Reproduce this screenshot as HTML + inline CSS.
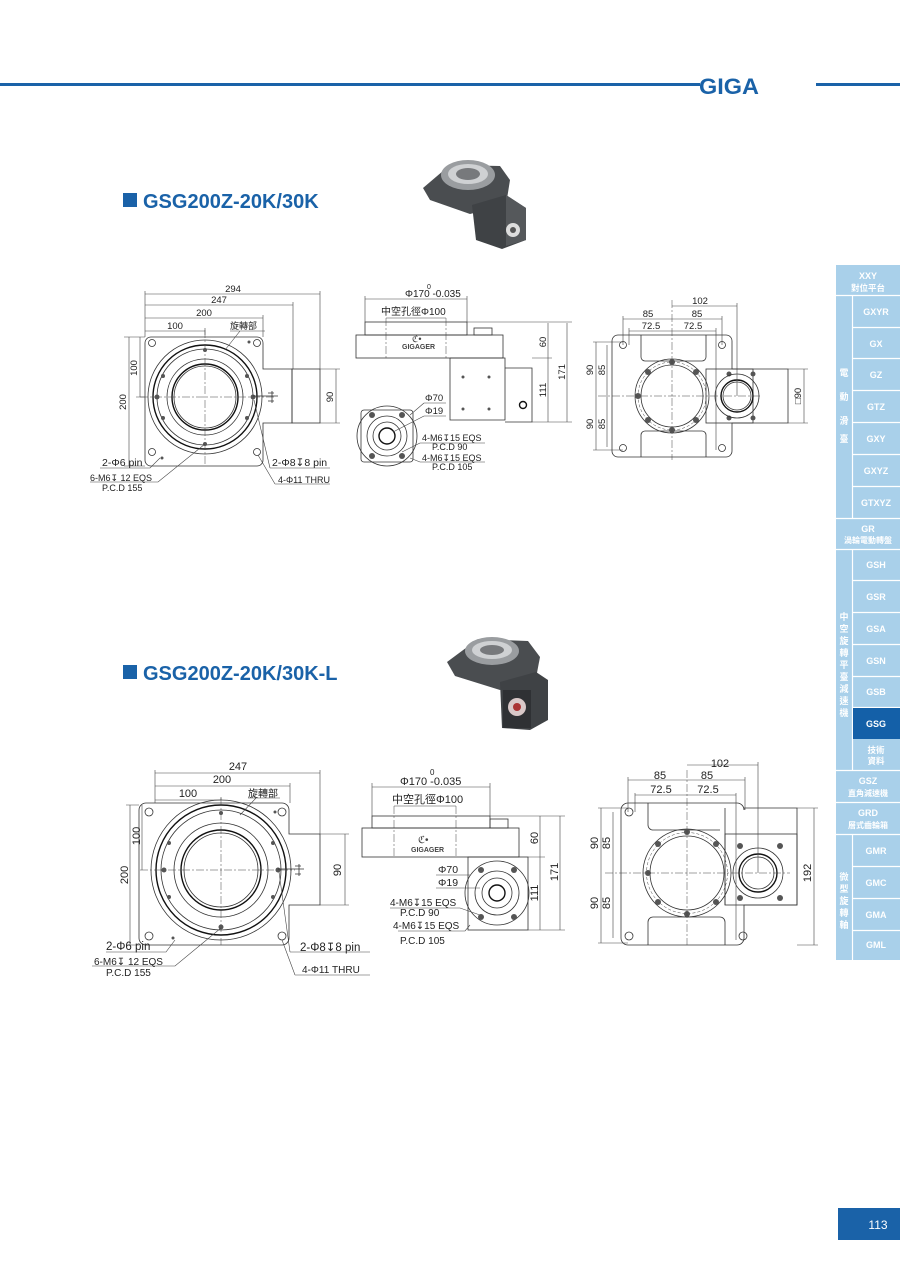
<!DOCTYPE html>
<html><head><meta charset="utf-8"><style>
body{margin:0;background:#fff}
svg{display:block}
text{font-family:"Liberation Sans","Noto Sans CJK TC",sans-serif;fill:#222}
.l{stroke:#333;stroke-width:.8;fill:none}
.t{stroke:#111;stroke-width:1.4;fill:none}
.c{stroke:#444;stroke-width:.5;stroke-dasharray:8 2 2 2;fill:none}
.d{stroke:#444;stroke-width:.6;fill:none}
.f{fill:#555}
.s text{font-size:9.5px}
.sb text{fill:#fff;font-size:9px;text-anchor:middle;font-weight:bold}
</style></head><body>
<svg width="900" height="1272" viewBox="0 0 900 1272">
<!-- header -->
<rect x="0" y="83" width="700" height="3" fill="#1a62a8"/>
<rect x="816" y="83" width="84" height="3" fill="#1a62a8"/>
<text x="699" y="94" style="font-size:22px;font-weight:bold;fill:#1a62a8" textLength="60" lengthAdjust="spacingAndGlyphs">GIGA</text>

<!-- titles -->
<rect x="123" y="193" width="14" height="14" fill="#1a62a8"/>
<text x="143" y="208" style="font-size:20px;font-weight:bold;fill:#1a62a8">GSG200Z-20K/30K</text>
<rect x="123" y="665" width="14" height="14" fill="#1a62a8"/>
<text x="143" y="680" style="font-size:20px;font-weight:bold;fill:#1a62a8">GSG200Z-20K/30K-L</text>

<!-- product photos -->
<g>
<polygon points="423,188 450,165 500,166 510,180 506,205 470,214 430,200" fill="#4a4d50"/>
<polygon points="472,205 506,195 526,208 526,240 502,249 476,240" fill="#3f4245"/>
<polygon points="506,195 526,208 526,240 506,246" fill="#55585b"/>
<ellipse cx="468" cy="175" rx="27" ry="15" fill="#9a9da0"/>
<ellipse cx="468" cy="174" rx="20" ry="10" fill="#cfd1d3"/>
<ellipse cx="468" cy="174" rx="12" ry="6" fill="#77797c"/>
<circle cx="513" cy="230" r="7" fill="#ddd"/><circle cx="513" cy="230" r="3" fill="#555"/>
</g>
<g>
<polygon points="447,662 478,639 528,641 540,657 536,678 500,690 455,676" fill="#4a4d50"/>
<polygon points="500,682 536,672 548,680 548,720 530,730 502,728" fill="#3f4245"/>
<ellipse cx="492" cy="651" rx="27" ry="14" fill="#9a9da0"/>
<ellipse cx="492" cy="650" rx="20" ry="9" fill="#cfd1d3"/>
<ellipse cx="492" cy="650" rx="12" ry="5" fill="#77797c"/>
<rect x="503" y="690" width="28" height="38" fill="#2f3134"/>
<circle cx="517" cy="707" r="9" fill="#d9c8c8"/><circle cx="517" cy="707" r="4" fill="#a33"/>
</g>

<!-- ===== TOP LEFT VIEW ===== -->
<g class="s">
<path class="l" d="M151,337 H257 a6,6 0 0 1 6,6 V369 H292 V423 H263 V460 a6,6 0 0 1 -6,6 H151 a6,6 0 0 1 -6,-6 V343 a6,6 0 0 1 6,-6Z"/>
<rect class="l" x="292" y="369" width="28" height="54"/>
<circle class="l" cx="205" cy="397" r="57"/>
<circle class="t" cx="205" cy="397" r="52"/>
<circle class="l" cx="205" cy="397" r="48"/>
<circle class="l" cx="205" cy="397" r="38"/>
<circle class="t" cx="205" cy="397" r="33"/>
<circle class="l" cx="205" cy="397" r="31"/>
<line class="c" x1="140" y1="397" x2="275" y2="397"/><line class="c" x1="205" y1="330" x2="205" y2="465"/>
<g class="f"><circle cx="205" cy="350" r="2"/><circle cx="205" cy="444" r="2"/><circle cx="163" cy="376" r="2"/><circle cx="247" cy="376" r="2"/><circle cx="163" cy="418" r="2"/><circle cx="247" cy="418" r="2"/><circle cx="157" cy="397" r="2.5"/><circle cx="253" cy="397" r="2.5"/><circle cx="162" cy="458" r="1.5"/><circle cx="249" cy="342" r="1.5"/></g>
<g class="l"><circle cx="152" cy="343" r="3.5"/><circle cx="257" cy="343" r="3.5"/><circle cx="152" cy="452" r="3.5"/><circle cx="257" cy="452" r="3.5"/></g>
<path class="l" d="M253,396 H278 M272,391 v12 M268,393 h6 M268,401 h6"/>
<g class="d"><path d="M145,337 V291 M320,369 V291 M293,369 V302 M263,337 V315 M205,335 V328 M145,294 H320 M145,305 H293 M145,318 H263 M145,331 H205 M145,337 H124 M145,466 H124 M129,337 V466 M140,337 V397 M145,397 H136 M320,369 H340 M320,423 H340 M336,369 V423"/></g>
<text x="233" y="292" text-anchor="middle">294</text><text x="219" y="303" text-anchor="middle">247</text><text x="204" y="316" text-anchor="middle">200</text><text x="175" y="329" text-anchor="middle">100</text>
<text x="230" y="329" style="font-size:9px">旋轉部</text>
<text transform="translate(126,402) rotate(-90)" text-anchor="middle">200</text>
<text transform="translate(137,368) rotate(-90)" text-anchor="middle">100</text>
<text transform="translate(333,397) rotate(-90)" text-anchor="middle">90</text>
<path class="d" d="M230,331 H265 M240,331 L225,350"/>
<path class="d" d="M100,468 H150 L160,458 M90,482 H158 L205,444 M270,468 H330 M270,468 L254,400 M275,484 H330 M275,484 L258,455"/>
<text x="102" y="466" style="font-size:10.5px">2-Φ6 pin</text>
<text x="90" y="481" style="font-size:9px">6-M6↧ 12 EQS</text>
<text x="102" y="491" style="font-size:9px">P.C.D 155</text>
<text x="272" y="466" style="font-size:10.5px">2-Φ8↧8 pin</text>
<text x="278" y="483" style="font-size:9px">4-Φ11 THRU</text>
</g>

<!-- ===== TOP MIDDLE SIDE VIEW ===== -->
<g class="s">
<rect class="l" x="365" y="322" width="102" height="13"/>
<rect class="l" x="356" y="335" width="147" height="23"/>
<path class="l" d="M450,358 V420 H505 V368 H532 V422 H505 M450,358 H505 V368"/>
<rect class="l" x="474" y="328" width="18" height="7"/>
<g class="f"><circle cx="463" cy="377" r="1.5"/><circle cx="489" cy="377" r="1.5"/><circle cx="463" cy="409" r="1.5"/><circle cx="489" cy="409" r="1.5"/></g>
<circle class="t" cx="523" cy="405" r="3.5"/>
<path class="c" d="M386,318 V358 M446,318 V358"/>
<text x="402" y="349" style="font-size:7px;font-weight:bold;fill:#444">GIGAGER</text>
<text x="412" y="342" style="font-size:9px;fill:#444">ℭ•</text>
<path class="d" d="M365,322 V296 M467,322 V296 M365,299 H467 M386,318 H446 M467,322 H572 M532,358 H552 M532,422 H572 M548,323 V358 M548,358 V422 M567,323 V422"/>
<text x="405" y="297" style="font-size:10px">Φ170 -0.035</text><text x="427" y="289" style="font-size:7px">0</text>
<text x="381" y="315" style="font-size:10px">中空孔徑Φ100</text>
<text transform="translate(546,342) rotate(-90)" text-anchor="middle">60</text>
<text transform="translate(546,390) rotate(-90)" text-anchor="middle">111</text>
<text transform="translate(565,372) rotate(-90)" text-anchor="middle">171</text>
<rect class="l" x="361" y="410" width="52" height="52" rx="3"/>
<circle class="l" cx="387" cy="436" r="30"/>
<circle class="l" cx="387" cy="436" r="20"/>
<circle class="l" cx="387" cy="436" r="14"/>
<circle class="t" cx="387" cy="436" r="8"/>
<g class="f"><circle cx="372" cy="415" r="3"/><circle cx="402" cy="415" r="3"/><circle cx="372" cy="456" r="3"/><circle cx="402" cy="456" r="3"/></g>
<path class="d" d="M424,403 H446 M424,403 L410,415 M424,416 H446 M424,416 L393,432 M420,443 H485 M420,443 L402,452 M420,462 H485 M420,462 L410,458"/>
<text x="425" y="401">Φ70</text><text x="425" y="414">Φ19</text>
<text x="422" y="441" style="font-size:9px">4-M6↧15 EQS</text><text x="432" y="450" style="font-size:9px">P.C.D 90</text>
<text x="422" y="461" style="font-size:9px">4-M6↧15 EQS</text><text x="432" y="470" style="font-size:9px">P.C.D 105</text>
</g>

<!-- ===== TOP RIGHT VIEW ===== -->
<g class="s">
<path class="l" d="M618,335 H726 a6,6 0 0 1 6,6 V369 H788 V423 H732 V451 a6,6 0 0 1 -6,6 H618 a6,6 0 0 1 -6,-6 V341 a6,6 0 0 1 6,-6Z"/>
<path class="l" d="M641,335 V357 a4,4 0 0 0 4,4 H 702 M702,361 a4,4 0 0 0 4,-4 V335 M641,457 V435 a4,4 0 0 1 4,-4 H702 a4,4 0 0 1 4,4 V457"/>
<rect class="l" x="706" y="369" width="47" height="54"/>
<circle class="l" cx="672" cy="396" r="37"/><circle class="l" cx="672" cy="396" r="31"/>
<circle cx="672" cy="396" r="34" style="stroke:#444;stroke-width:.5;stroke-dasharray:3 2;fill:none"/>
<g class="f"><circle cx="672" cy="362" r="3"/><circle cx="672" cy="430" r="3"/><circle cx="648" cy="372" r="3"/><circle cx="696" cy="372" r="3"/><circle cx="648" cy="420" r="3"/><circle cx="696" cy="420" r="3"/><circle cx="638" cy="396" r="3"/><circle cx="729" cy="374" r="2.5"/><circle cx="753" cy="374" r="2.5"/><circle cx="729" cy="418" r="2.5"/><circle cx="753" cy="418" r="2.5"/></g>
<circle class="l" cx="737" cy="396" r="22"/><circle class="t" cx="737" cy="396" r="16"/><circle class="l" cx="737" cy="396" r="14"/>
<g class="l"><circle cx="623" cy="345" r="3.5"/><circle cx="722" cy="345" r="3.5"/><circle cx="623" cy="448" r="3.5"/><circle cx="722" cy="448" r="3.5"/></g>
<path class="c" d="M598,396 H760 M672,300 V460"/>
<path class="d" d="M623,345 V316 M722,345 V316 M629,345 V328 M716,450 V328 M737,396 V303 M623,319 H722 M629,331 H716 M672,306 H737 M623,342 H593 M623,450 H593 M596,342 V450 M607,345 V447 M788,369 H808 M788,423 H808 M804,369 V423"/>
<text x="700" y="304" text-anchor="middle">102</text><text x="648" y="317" text-anchor="middle">85</text><text x="697" y="317" text-anchor="middle">85</text>
<text x="651" y="329" text-anchor="middle">72.5</text><text x="693" y="329" text-anchor="middle">72.5</text>
<text transform="translate(593,370) rotate(-90)" text-anchor="middle">90</text><text transform="translate(605,370) rotate(-90)" text-anchor="middle">85</text>
<text transform="translate(593,424) rotate(-90)" text-anchor="middle">90</text><text transform="translate(605,424) rotate(-90)" text-anchor="middle">85</text>
<text transform="translate(801,396) rotate(-90)" text-anchor="middle">□90</text>
</g>

<!-- ===== BOTTOM LEFT VIEW ===== -->
<g class="s">
<path class="l" d="M146,803 H282 a7,7 0 0 1 7,7 V834 H320 V905 H289 V938 a7,7 0 0 1 -7,7 H146 a7,7 0 0 1 -7,-7 V810 a7,7 0 0 1 7,-7Z"/>
<circle class="l" cx="221" cy="870" r="70"/>
<circle class="t" cx="221" cy="870" r="65"/>
<circle class="l" cx="221" cy="870" r="60"/>
<circle class="l" cx="221" cy="870" r="47"/>
<circle class="t" cx="221" cy="870" r="40"/>
<circle class="l" cx="221" cy="870" r="37"/>
<path class="c" d="M140,870 H295 M221,798 V945"/>
<g class="f"><circle cx="221" cy="813" r="2"/><circle cx="221" cy="927" r="2.5"/><circle cx="169" cy="843" r="2"/><circle cx="273" cy="843" r="2"/><circle cx="169" cy="897" r="2"/><circle cx="273" cy="897" r="2"/><circle cx="164" cy="870" r="2.5"/><circle cx="278" cy="870" r="2.5"/><circle cx="173" cy="938" r="1.5"/><circle cx="275" cy="812" r="1.5"/></g>
<g class="l"><circle cx="149" cy="812" r="4"/><circle cx="282" cy="812" r="4"/><circle cx="149" cy="936" r="4"/><circle cx="282" cy="936" r="4"/></g>
<path class="l" d="M278,869 H304 M299,864 v12 M295,866 h6 M295,874 h6"/>
<path class="d" d="M155,803 V770 M320,834 V770 M290,803 V783 M221,800 V797 M155,773 H320 M155,786 H290 M155,800 H221 M139,805 H126 M139,945 H126 M130,805 V945 M142,805 V870 M320,834 H349 M320,905 H349 M345,834 V905"/>
<text x="238" y="770" text-anchor="middle" style="font-size:11px">247</text><text x="222" y="783" text-anchor="middle" style="font-size:11px">200</text><text x="188" y="797" text-anchor="middle" style="font-size:11px">100</text>
<text x="248" y="797" style="font-size:10px">旋轉部</text>
<text transform="translate(128,875) rotate(-90)" text-anchor="middle" style="font-size:11px">200</text>
<text transform="translate(140,836) rotate(-90)" text-anchor="middle" style="font-size:11px">100</text>
<text transform="translate(341,870) rotate(-90)" text-anchor="middle" style="font-size:11px">90</text>
<path class="d" d="M248,798 H280 M256,798 L240,815"/>
<path class="d" d="M106,952 H166 L175,940 M92,966 H175 L221,928 M290,952 H370 M290,952 L279,872 M295,975 H370 M295,975 L282,940"/>
<text x="106" y="950" style="font-size:11.5px">2-Φ6 pin</text>
<text x="94" y="965" style="font-size:10px">6-M6↧ 12 EQS</text>
<text x="106" y="976" style="font-size:10px">P.C.D 155</text>
<text x="300" y="951" style="font-size:11.5px">2-Φ8↧8 pin</text>
<text x="302" y="973" style="font-size:10px">4-Φ11 THRU</text>
</g>

<!-- ===== BOTTOM MIDDLE ===== -->
<g class="s">
<rect class="l" x="372" y="816" width="118" height="12"/>
<rect class="l" x="362" y="828" width="157" height="29"/>
<rect class="l" x="490" y="819" width="18" height="9"/>
<path class="c" d="M394,806 V857 M456,806 V857"/>
<text x="411" y="852" style="font-size:7px;font-weight:bold;fill:#444">GIGAGER</text>
<text x="418" y="843" style="font-size:10px;fill:#444">ℭ•</text>
<rect class="l" x="468" y="857" width="60" height="73"/>
<circle class="l" cx="497" cy="893" r="32"/><circle class="l" cx="497" cy="893" r="22"/><circle class="l" cx="497" cy="893" r="15"/><circle class="t" cx="497" cy="893" r="8"/>
<g class="f"><circle cx="481" cy="870" r="3"/><circle cx="514" cy="870" r="3"/><circle cx="481" cy="917" r="3"/><circle cx="514" cy="917" r="3"/></g>
<path class="d" d="M372,816 V783 M490,816 V783 M372,787 H490 M394,806 H456 M490,816 H565 M528,857 H545 M528,930 H565 M540,816 V857 M540,857 V930 M560,816 V930"/>
<text x="400" y="785" style="font-size:11px">Φ170 -0.035</text><text x="430" y="775" style="font-size:8px">0</text>
<text x="392" y="803" style="font-size:11px">中空孔徑Φ100</text>
<text transform="translate(538,838) rotate(-90)" text-anchor="middle" style="font-size:11px">60</text>
<text transform="translate(538,893) rotate(-90)" text-anchor="middle" style="font-size:11px">111</text>
<text transform="translate(558,872) rotate(-90)" text-anchor="middle" style="font-size:11px">171</text>
<path class="d" d="M436,875 H470 M436,888 H480 M390,908 H460 L480,915 M398,931 H465 L470,925"/>
<text x="438" y="873" style="font-size:10.5px">Φ70</text><text x="438" y="886" style="font-size:10.5px">Φ19</text>
<text x="390" y="906" style="font-size:10px">4-M6↧15 EQS</text><text x="400" y="916" style="font-size:10px">P.C.D 90</text>
<text x="393" y="929" style="font-size:10px">4-M6↧15 EQS</text><text x="400" y="944" style="font-size:10px">P.C.D 105</text>
</g>

<!-- ===== BOTTOM RIGHT ===== -->
<g class="s">
<path class="l" d="M628,803 H737 a7,7 0 0 1 7,7 V808 H797 V905 H744 V938 a7,7 0 0 1 -7,7 H628 a7,7 0 0 1 -7,-7 V810 a7,7 0 0 1 7,-7Z"/>
<path class="l" d="M648,803 V825 a5,5 0 0 0 5,5 H720 M648,945 V922 a5,5 0 0 1 5,-5 H720 a5,5 0 0 1 5,5 V945 M725,808 V905"/>
<rect class="l" x="725" y="834" width="72" height="71"/>
<circle class="l" cx="687" cy="873" r="44"/><circle class="l" cx="687" cy="873" r="37"/>
<circle cx="687" cy="873" r="40.5" style="stroke:#444;stroke-width:.5;stroke-dasharray:3 2;fill:none"/>
<g class="f"><circle cx="687" cy="832" r="3"/><circle cx="687" cy="914" r="3"/><circle cx="658" cy="844" r="3"/><circle cx="716" cy="844" r="3"/><circle cx="658" cy="902" r="3"/><circle cx="716" cy="902" r="3"/><circle cx="648" cy="873" r="3"/><circle cx="740" cy="846" r="3"/><circle cx="780" cy="846" r="3"/><circle cx="740" cy="898" r="3"/><circle cx="780" cy="898" r="3"/></g>
<circle class="l" cx="758" cy="873" r="25"/><circle class="t" cx="758" cy="873" r="19"/><circle class="l" cx="758" cy="873" r="16"/>
<g class="l"><circle cx="629" cy="812" r="4"/><circle cx="743" cy="936" r="4"/><circle cx="629" cy="936" r="4"/></g>
<path class="c" d="M605,873 H790 M687,770 V945"/>
<path class="d" d="M628,812 V777 M745,810 V777 M635,812 V793 M736,940 V793 M758,873 V762 M628,780 H745 M635,795 H736 M687,765 H758 M628,808 H598 M628,943 H598 M601,808 V943 M613,812 V938 M797,808 H818 M797,945 H818 M814,808 V945"/>
<text x="720" y="767" text-anchor="middle" style="font-size:11px">102</text><text x="660" y="779" text-anchor="middle" style="font-size:11px">85</text><text x="707" y="779" text-anchor="middle" style="font-size:11px">85</text>
<text x="661" y="793" text-anchor="middle" style="font-size:11px">72.5</text><text x="708" y="793" text-anchor="middle" style="font-size:11px">72.5</text>
<text transform="translate(598,843) rotate(-90)" text-anchor="middle" style="font-size:11px">90</text><text transform="translate(610,843) rotate(-90)" text-anchor="middle" style="font-size:11px">85</text>
<text transform="translate(598,903) rotate(-90)" text-anchor="middle" style="font-size:11px">90</text><text transform="translate(610,903) rotate(-90)" text-anchor="middle" style="font-size:11px">85</text>
<text transform="translate(811,873) rotate(-90)" text-anchor="middle" style="font-size:11px">192</text>
</g>

<!-- ===== SIDEBAR ===== -->
<g class="sb">
<rect x="836" y="265" width="64" height="695" fill="#a9d0ea"/>
<g stroke="#fff" stroke-width="1.2">
<line x1="836" y1="295.5" x2="900" y2="295.5"/>
<line x1="852" y1="327.5" x2="900" y2="327.5"/><line x1="852" y1="358.5" x2="900" y2="358.5"/><line x1="852" y1="390.5" x2="900" y2="390.5"/><line x1="852" y1="422.5" x2="900" y2="422.5"/><line x1="852" y1="454.5" x2="900" y2="454.5"/><line x1="852" y1="486.5" x2="900" y2="486.5"/>
<line x1="836" y1="518.5" x2="900" y2="518.5"/><line x1="836" y1="549.5" x2="900" y2="549.5"/>
<line x1="852" y1="580.5" x2="900" y2="580.5"/><line x1="852" y1="612.5" x2="900" y2="612.5"/><line x1="852" y1="644.5" x2="900" y2="644.5"/><line x1="852" y1="676.5" x2="900" y2="676.5"/><line x1="852" y1="707.5" x2="900" y2="707.5"/>
<line x1="836" y1="770.5" x2="900" y2="770.5"/><line x1="836" y1="802.5" x2="900" y2="802.5"/><line x1="836" y1="834.5" x2="900" y2="834.5"/>
<line x1="852" y1="866.5" x2="900" y2="866.5"/><line x1="852" y1="898.5" x2="900" y2="898.5"/><line x1="852" y1="930.5" x2="900" y2="930.5"/>
<line x1="852.5" y1="296" x2="852.5" y2="518"/><line x1="852.5" y1="550" x2="852.5" y2="770"/><line x1="852.5" y1="835" x2="852.5" y2="960"/>
</g>
<rect x="853" y="708" width="47" height="31" fill="#1460a8"/>
<text x="868" y="279">XXY</text><text x="868" y="291" style="font-size:8.5px">對位平台</text>
<text x="876" y="315">GXYR</text><text x="876" y="347">GX</text><text x="876" y="378">GZ</text><text x="876" y="410">GTZ</text><text x="876" y="442">GXY</text><text x="876" y="474">GXYZ</text><text x="876" y="506">GTXYZ</text>
<text x="868" y="532">GR</text><text x="868" y="543" style="font-size:8px">渦輪電動轉盤</text>
<text x="876" y="568">GSH</text><text x="876" y="600">GSR</text><text x="876" y="632">GSA</text><text x="876" y="664">GSN</text><text x="876" y="695">GSB</text><text x="876" y="727">GSG</text>
<text x="876" y="753" style="font-size:8.5px">技術</text><text x="876" y="764" style="font-size:8.5px">資料</text>
<text x="868" y="784">GSZ</text><text x="868" y="796" style="font-size:8px">直角減速機</text>
<text x="868" y="816">GRD</text><text x="868" y="828" style="font-size:8px">層式齒輪箱</text>
<text x="876" y="854">GMR</text><text x="876" y="886">GMC</text><text x="876" y="918">GMA</text><text x="876" y="948">GML</text>
<g style="font-size:8px">
<text x="844" y="376">電</text><text x="844" y="400">動</text><text x="844" y="424">滑</text><text x="844" y="442">臺</text>
<text x="844" y="620">中</text><text x="844" y="632">空</text><text x="844" y="644">旋</text><text x="844" y="656">轉</text><text x="844" y="668">平</text><text x="844" y="680">臺</text><text x="844" y="692">減</text><text x="844" y="704">速</text><text x="844" y="716">機</text>
<text x="844" y="880">微</text><text x="844" y="892">型</text><text x="844" y="904">旋</text><text x="844" y="916">轉</text><text x="844" y="928">軸</text>
</g>
</g>

<!-- page number -->
<rect x="838" y="1208" width="62" height="32" fill="#1a62a8"/>
<text x="878" y="1229" text-anchor="middle" style="fill:#fff;font-size:12px">113</text>
</svg>
</body></html>
